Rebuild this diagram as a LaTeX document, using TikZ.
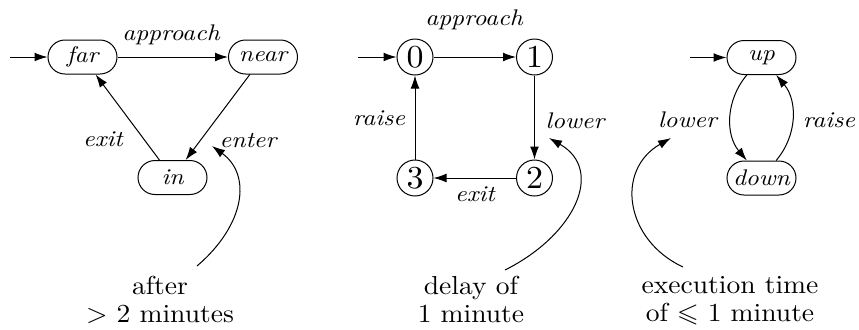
\documentclass[tikz,border=0pt]{standalone}
\usepackage{fontspec}
\usetikzlibrary{arrows.meta}
\newfontfamily\wideit{lmroman10-italic.otf}[FakeStretch=1.12]
\newfontfamily\widerm{lmroman10-regular.otf}[FakeStretch=1.06]
\newfontface\widesym{latinmodern-math.otf}[FakeStretch=1.06]
\tikzset{
	ledge/.style={draw=black,line width=0.5pt,-{Latex[length=6.5pt,width=4.4pt]}},
	lstate/.style={draw=black,line width=0.5pt,rounded corners=8.5pt,minimum width=34.5pt,minimum height=17pt,inner sep=0pt,font=\wideit\fontsize{11.3}{13.6}\selectfont},
	lcirc/.style={draw=black,line width=0.5pt,circle,minimum size=18pt,inner sep=0pt,font=\widerm\fontsize{16}{19}\selectfont},
	llabel/.style={font=\wideit\fontsize{11.3}{13.6}\selectfont,inner sep=0pt},
	lnote/.style={font=\widerm\fontsize{13}{13.8}\selectfont,align=center,inner sep=0pt,anchor=north}
}

\begin{document}
\begin{tikzpicture}[x=0.5pt,y=0.5pt]
	\useasboundingbox (0,0) rectangle (859,329);

	% train
	\node[lstate] (far) at (82.5,272) {far};
	\node[lstate] (near) at (263,272) {near};
	\node[lstate] (in) at (172.5,151.5) {in};
	\coordinate (farin) at (10,272);
	\draw[ledge] (farin) -- (far);
	\draw[ledge] (far) -- (near);
	\draw[ledge] (near) -- (in);
	\draw[ledge] (in) -- (far);
	\node[llabel] (trappr) at (171,294) {approach};
	\node[llabel] (trent) at (248,188) {enter};
	\node[llabel] (trexit) at (103,190) {exit};
	\node[lnote] (trnote) at (160,53) {after\\> 2 minutes};
	\coordinate (trfrom) at (197,63);
	\coordinate (trto) at (212,183);
	\draw[ledge] (trfrom) .. controls (245,104) and (252,154) .. (trto);

	% controller
	\node[lcirc] (c0) at (415,272) {0};
	\node[lcirc] (c1) at (534.5,272) {1};
	\node[lcirc] (c2) at (534.5,151) {2};
	\node[lcirc] (c3) at (415,151) {3};
	\coordinate (c0in) at (358,272);
	\draw[ledge] (c0in) -- (c0);
	\draw[ledge] (c0) -- (c1);
	\draw[ledge] (c1) -- (c2);
	\draw[ledge] (c2) -- (c3);
	\draw[ledge] (c3) -- (c0);
	\node[llabel] (cappr) at (474,309) {approach};
	\node[llabel] (clower) at (575,208) {lower};
	\node[llabel] (cexit) at (475,135) {exit};
	\node[llabel] (craise) at (379,211) {raise};
	\node[lnote] (cnote) at (471,53) {delay of\\1 minute};
	\coordinate (cfrom) at (505,59);
	\coordinate (cto) at (549,191);
	\draw[ledge] (cfrom) .. controls (575,94) and (605,159) .. (cto);

	% gate
	\node[lstate] (up) at (761.5,271.5) {up};
	\node[lstate] (down) at (761.5,151) {down};
	\coordinate (upin) at (690,271.5);
	\draw[ledge] (upin) -- (up);
	\draw[ledge] (up) to[bend right=40] (down);
	\draw[ledge] (down) to[bend right=40] (up);
	\node[llabel] (glower) at (687.5,209) {lower};
	\node[llabel] (graise) at (829,209) {raise};
	\node[lnote] (gnote) at (730,52.5) {execution time\\of {\widesym ⩽} 1 minute};
	\coordinate (gfrom) at (683,62);
	\coordinate (gto) at (671,191);
	\draw[ledge] (gfrom) .. controls (625,89) and (615,159) .. (gto);
\end{tikzpicture}
\end{document}
